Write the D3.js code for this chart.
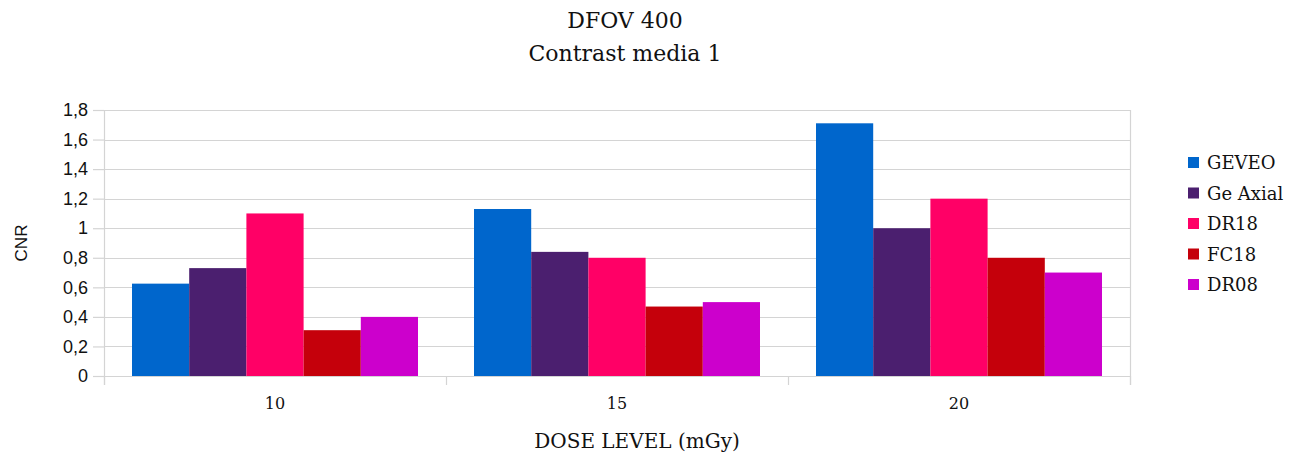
<!DOCTYPE html>
<html>
<head>
<meta charset="utf-8">
<script src="https://cdn.jsdelivr.net/npm/d3@7"></script>
<style>
  html, body { margin: 0; padding: 0; background: #ffffff; }
  svg { display: block; }
</style>
</head>
<body>
<div id="chart"></div>
<script>
// Dose levels on the x axis
const doseLevels = ["10", "15", "20"];
// Reconstruction series
const seriesNames = ["GEVEO", "Ge Axial", "DR18", "FC18", "DR08"];
const seriesColors = ["#0066cc", "#4b1f6f", "#ff0066", "#c5000b", "#cc00cc"];
// CNR values per series, one per dose level
const geveo   = [0.625, 1.13, 1.71];
const geAxial = [0.73, 0.84, 1.0];
const dr18    = [1.10, 0.80, 1.20];
const fc18    = [0.31, 0.47, 0.80];
const dr08    = [0.40, 0.50, 0.70];
const yTicks  = [0, 0.2, 0.4, 0.6, 0.8, 1, 1.2, 1.4, 1.6, 1.8];

const seriesValues = [geveo, geAxial, dr18, fc18, dr08];

const W = 1295, H = 456;
const margin = { left: 104, right: 165, top: 110, bottom: 80 };
const plotW = W - margin.left - margin.right;
const plotH = H - margin.top - margin.bottom;

const svg = d3.select("#chart").append("svg")
  .attr("width", W).attr("height", H);

const serif = "'DejaVu Serif', 'Liberation Serif', serif";
const sans = "'Liberation Sans', Arial, sans-serif";

const x0 = d3.scaleBand().domain(doseLevels).range([0, plotW]).paddingInner(0).paddingOuter(0);
const x1 = d3.scaleBand().domain(seriesNames).range([28, x0.bandwidth() - 28]).padding(0);
const y = d3.scaleLinear().domain([0, 1.8]).range([plotH, 0]);

const g = svg.append("g").attr("transform", `translate(${margin.left},${margin.top})`);

// Horizontal grid lines
g.append("g").selectAll("line").data(yTicks).join("line")
  .attr("x1", 0).attr("x2", plotW)
  .attr("y1", d => Math.round(y(d)) + 0.5).attr("y2", d => Math.round(y(d)) + 0.5)
  .attr("stroke", "#d4d4d4").attr("stroke-width", 1.2);

// Right frame line
g.append("line")
  .attr("x1", plotW + 0.5).attr("x2", plotW + 0.5)
  .attr("y1", 0).attr("y2", plotH + 9)
  .attr("stroke", "#d4d4d4").attr("stroke-width", 1.2);

// Bars
const groups = g.append("g").selectAll("g").data(doseLevels).join("g")
  .attr("transform", d => `translate(${x0(d)},0)`);

groups.selectAll("rect")
  .data((d, i) => seriesNames.map((s, k) => ({ s, k, v: seriesValues[k][i] })))
  .join("rect")
  .attr("x", d => x1(d.s))
  .attr("width", x1.bandwidth())
  .attr("y", d => y(d.v))
  .attr("height", d => plotH - y(d.v))
  .attr("fill", d => seriesColors[d.k]);

// Y axis
const yAxis = g.append("g")
  .call(d3.axisLeft(y).tickValues(yTicks).tickSize(11).tickPadding(5)
    .tickFormat(d => String(d).replace(".", ",")));
yAxis.select(".domain").attr("stroke", "#d4d4d4").attr("stroke-width", 1.2)
  .attr("d", `M0.5,0V${plotH + 9}`);
yAxis.selectAll(".tick line").attr("stroke", "#d4d4d4").attr("stroke-width", 1.2);
yAxis.selectAll(".tick text").attr("font-family", sans).attr("font-size", 18).attr("fill", "#111");

// X axis
const xAxis = g.append("g").attr("transform", `translate(0,${plotH})`)
  .call(d3.axisBottom(x0).tickSize(0).tickPadding(22));
xAxis.select(".domain").remove();
xAxis.selectAll(".tick text").attr("font-family", serif).attr("font-size", 16).attr("fill", "#111");

// Category boundary ticks
const bounds = doseLevels.map(d => x0(d)).concat([plotW]);
g.append("g").selectAll("line").data(bounds).join("line")
  .attr("x1", d => Math.round(d) + 0.5).attr("x2", d => Math.round(d) + 0.5)
  .attr("y1", plotH).attr("y2", plotH + 9)
  .attr("stroke", "#d4d4d4").attr("stroke-width", 1.2);

// Titles
svg.append("text").attr("x", 625).attr("y", 28).attr("text-anchor", "middle")
  .attr("font-family", serif).attr("font-size", 22).attr("fill", "#111").text("DFOV 400");
svg.append("text").attr("x", 625).attr("y", 61).attr("text-anchor", "middle")
  .attr("font-family", serif).attr("font-size", 22).attr("fill", "#111").text("Contrast media 1");

svg.append("text").attr("x", 637).attr("y", 448).attr("text-anchor", "middle")
  .attr("font-family", serif).attr("font-size", 20).attr("fill", "#111").text("DOSE LEVEL (mGy)");

svg.append("text")
  .attr("transform", `translate(27,${margin.top + plotH / 2}) rotate(-90)`)
  .attr("text-anchor", "middle")
  .attr("font-family", sans).attr("font-size", 17).attr("fill", "#111").text("CNR");

// Legend
const legend = svg.append("g").attr("transform", "translate(1188,157)");
const items = legend.selectAll("g").data(seriesNames).join("g")
  .attr("transform", (d, i) => `translate(0,${i * 30.5})`);
items.append("rect").attr("width", 11).attr("height", 11)
  .attr("fill", (d, i) => seriesColors[i]);
items.append("text").attr("x", 19).attr("y", 12)
  .attr("font-family", serif).attr("font-size", 18).attr("fill", "#111")
  .text(d => d);
</script>
</body>
</html>
